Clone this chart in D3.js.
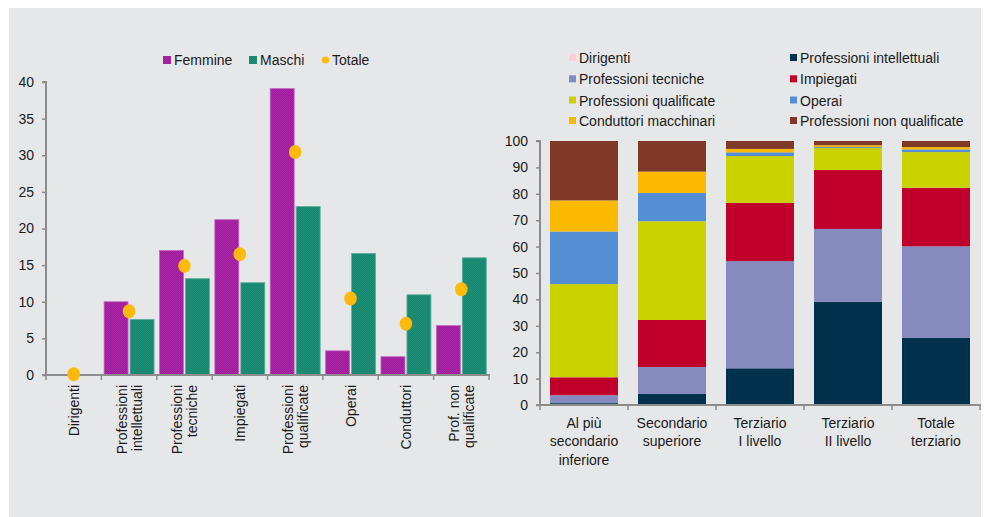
<!DOCTYPE html>
<html><head><meta charset="utf-8">
<script src="https://cdn.jsdelivr.net/npm/d3@7"></script>
<style>
body{margin:0;background:#fff;}
text{font-family:"Liberation Sans",Arial,sans-serif;fill:#1a1a1a;}
</style></head>
<body>
<svg id="c" width="984" height="517"></svg>
<script>
// ---- Left chart data ----
const leftCategories = [["Dirigenti"],["Professioni","intellettuali"],["Professioni","tecniche"],["Impiegati"],["Professioni","qualificate"],["Operai"],["Conduttori"],["Prof. non","qualificate"]];
const femmine = [0, 10.0, 17.0, 21.2, 39.1, 3.3, 2.5, 6.75];
const maschi  = [0, 7.6, 13.15, 12.6, 23.0, 16.6, 10.95, 16.0];
const totale  = [0.1, 8.7, 14.9, 16.5, 30.45, 10.45, 7.0, 11.7];
const leftTicks = [0,5,10,15,20,25,30,35,40];

// ---- Right chart data ----
const rightCategories = [["Al più","secondario","inferiore"],["Secondario","superiore"],["Terziario","I livello"],["Terziario","II livello"],["Totale","terziario"]];
const rightSeries = ["Dirigenti","Professioni intellettuali","Professioni tecniche","Impiegati","Professioni qualificate","Operai","Conduttori macchinari","Professioni non qualificate"];
const dirigenti      = [0, 0, 0, 0, 0];
const intellettuali  = [0.7, 4.2, 13.9, 39.1, 25.5];
const tecniche       = [3.0, 10.2, 40.6, 27.6, 34.6];
const impiegati      = [6.8, 17.8, 22.1, 22.3, 22.2];
const qualificate    = [35.3, 37.4, 17.7, 8.3, 13.5];
const operai         = [19.9, 10.7, 1.4, 0.4, 1.0];
const conduttori     = [11.8, 8.1, 1.3, 0.7, 0.9];
const nonQualificate = [22.5, 11.6, 3.0, 1.6, 2.3];
const rightTicks = [0,10,20,30,40,50,60,70,80,90,100];

const rightColors = ["#FFCCD8","#00324E","#858BBF","#C0002B","#CCD100","#558ED5","#FBBA00","#7F3728"];
const colF = "#A0189C", colM = "#16866F", colT = "#FDBA0B";

const svg = d3.select("#c");
svg.append("rect").attr("x",9).attr("y",8).attr("width",972).attr("height",509).attr("fill","#E6E7E9");

// patterns
const defs = svg.append("defs");
function pat(id, base, alt){
  const p = defs.append("pattern").attr("id",id).attr("width",2).attr("height",2).attr("patternUnits","userSpaceOnUse");
  p.append("rect").attr("width",2).attr("height",2).attr("fill",base);
  p.append("rect").attr("width",1).attr("height",1).attr("fill",alt);
  p.append("rect").attr("x",1).attr("y",1).attr("width",1).attr("height",1).attr("fill",alt);
}
pat("pF", colF, "#A82AA4");
pat("pM", colM, "#1E8E77");

const axisCol = "#8C8C8C";

// ================= LEFT CHART =================
const L = {x0:46, x1:489, y0:375, y1:82};
const xL = d3.scaleBand().domain(d3.range(leftCategories.length)).range([L.x0, L.x1]).paddingInner(0).paddingOuter(0);
const xSub = d3.scaleBand().domain(["F","M"]).range([0, xL.bandwidth()]).paddingInner(0.077).paddingOuter(0.104);
const yL = d3.scaleLinear().domain([0,40]).range([L.y0, L.y1]);

const gL = svg.append("g");
const barsData = d3.range(leftCategories.length).flatMap(i => [
  {i, k:"F", v:femmine[i]}, {i, k:"M", v:maschi[i]}
]);
gL.selectAll("rect.bar").data(barsData.filter(d=>d.v>0)).join("rect")
  .attr("x", d => xL(d.i) + xSub(d.k))
  .attr("width", xSub.bandwidth())
  .attr("y", d => yL(d.v))
  .attr("height", d => yL(0) - yL(d.v))
  .attr("fill", d => d.k==="F" ? "url(#pF)" : "url(#pM)")
  .attr("stroke", d => d.k==="F" ? "#C46AC1" : "#5FAF9E")
  .attr("stroke-width", 0.8);

// y axis
const yAxL = d3.axisLeft(yL).tickValues(leftTicks).tickSize(4).tickPadding(8);
const gyL = gL.append("g").attr("transform",`translate(${L.x0},0)`).call(yAxL);
gyL.select(".domain").attr("stroke",axisCol).attr("stroke-width",2).attr("d",`M-4,${L.y1}H0V${L.y0}`);
gyL.selectAll(".tick line").attr("stroke",axisCol).attr("stroke-width",1.5);
gyL.selectAll(".tick text").attr("font-size","14px").attr("fill","#1a1a1a").style("font-family","Liberation Sans, Arial");

// x axis
gL.append("line").attr("x1",L.x0-4).attr("x2",L.x1+1).attr("y1",L.y0).attr("y2",L.y0).attr("stroke",axisCol).attr("stroke-width",2);
const bL = d3.range(leftCategories.length+1).map(i => i<leftCategories.length ? xL(i) : L.x1);
gL.selectAll("line.xt").data(bL).join("line").attr("class","xt")
  .attr("x1",d=>d).attr("x2",d=>d).attr("y1",L.y0).attr("y2",L.y0+5).attr("stroke",axisCol).attr("stroke-width",1.5);

// x labels
leftCategories.forEach((lines,i) => {
  const cx = xL(i) + xL.bandwidth()/2;
  const t = gL.append("text").attr("transform",`translate(${cx},385) rotate(-90)`)
    .attr("text-anchor","end").attr("font-size","14px");
  const n = lines.length;
  lines.forEach((ln,j) => {
    t.append("tspan").attr("x",0).attr("y", (j-(n-1)/2)*15 + 5).text(ln);
  });
});

// dots
gL.selectAll("ellipse.tot").data(totale).join("ellipse")
  .attr("cx",(d,i)=>xL(i)+xL.bandwidth()/2).attr("cy",d=>yL(d))
  .attr("rx",6.3).attr("ry",7).attr("fill",colT);

// left legend
const legL = [{k:"Femmine",x:163,t:"sq",f:"url(#pF)"},{k:"Maschi",x:249,t:"sq",f:"url(#pM)"},{k:"Totale",x:322,t:"dot",f:colT}];
legL.forEach(d=>{
  if(d.t==="sq") svg.append("rect").attr("x",d.x).attr("y",56).attr("width",8).attr("height",8).attr("fill",d.f);
  else svg.append("circle").attr("cx",d.x+3.5).attr("cy",60).attr("r",3.6).attr("fill",d.f);
  svg.append("text").attr("x",d.x+ (d.t==="sq"?11:10)).attr("y",65).attr("font-size","14px").text(d.k);
});

// ================= RIGHT CHART =================
const R = {x0:540, x1:980, y0:405, y1:141};
const xR = d3.scaleBand().domain(d3.range(rightCategories.length)).range([R.x0,R.x1]).paddingInner(0.2273).paddingOuter(0.1136);
const yR = d3.scaleLinear().domain([0,100]).range([R.y0,R.y1]);
const seriesVals = [dirigenti,intellettuali,tecniche,impiegati,qualificate,operai,conduttori,nonQualificate];
const table = d3.range(rightCategories.length).map(i => {
  const o = {i};
  rightSeries.forEach((s,k)=> o[s] = seriesVals[k][i]);
  return o;
});
const stack = d3.stack().keys(rightSeries)(table);
const gR = svg.append("g");
stack.forEach((layer,k) => {
  gR.append("g").selectAll("rect").data(layer).join("rect")
    .attr("x", d => xR(d.data.i))
    .attr("width", xR.bandwidth())
    .attr("y", d => yR(d[1]))
    .attr("height", d => Math.max(0, yR(d[0]) - yR(d[1])))
    .attr("fill", rightColors[k]);
});

const yAxR = d3.axisLeft(yR).tickValues(rightTicks).tickSize(4).tickPadding(8);
const gyR = gR.append("g").attr("transform",`translate(${R.x0},0)`).call(yAxR);
gyR.select(".domain").attr("stroke",axisCol).attr("stroke-width",2).attr("d",`M-4,${R.y1}H0V${R.y0}`);
gyR.selectAll(".tick line").attr("stroke",axisCol).attr("stroke-width",1.5);
gyR.selectAll(".tick text").attr("font-size","14px").attr("fill","#1a1a1a");

gR.append("line").attr("x1",R.x0-4).attr("x2",R.x1+1).attr("y1",R.y0).attr("y2",R.y0).attr("stroke",axisCol).attr("stroke-width",2);
const step = xR.step();
const bR = d3.range(rightCategories.length+1).map(i => R.x0 + i*(R.x1-R.x0)/rightCategories.length);
gR.selectAll("line.xt").data(bR).join("line").attr("class","xt")
  .attr("x1",d=>d).attr("x2",d=>d).attr("y1",R.y0).attr("y2",R.y0+5).attr("stroke",axisCol).attr("stroke-width",1.5);

rightCategories.forEach((lines,i)=>{
  const cx = xR(i)+xR.bandwidth()/2;
  const t = gR.append("text").attr("text-anchor","middle").attr("font-size","14px");
  lines.forEach((ln,j)=> t.append("tspan").attr("x",cx).attr("y",428 + j*18.3).text(ln));
});

// right legend
rightSeries.forEach((s,k)=>{
  const col = k%2, row = Math.floor(k/2);
  const x = col===0 ? 569 : 790;
  const base = [63,84.3,105.5,126][row];
  svg.append("rect").attr("x",x).attr("y",base-9).attr("width",7).attr("height",7).attr("fill",rightColors[k]);
  svg.append("text").attr("x",x+10).attr("y",base).attr("font-size","14px").text(s);
});
</script>
</body></html>
